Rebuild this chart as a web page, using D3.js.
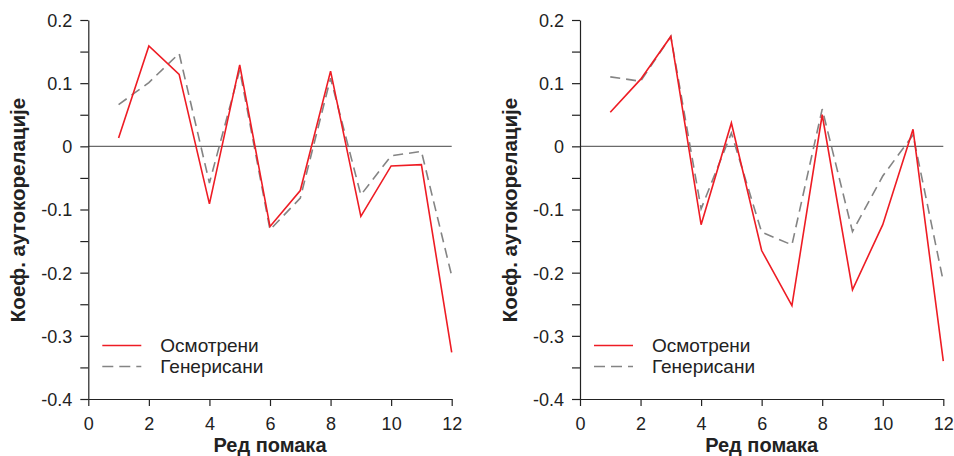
<!DOCTYPE html>
<html><head><meta charset="utf-8">
<script src="https://cdn.jsdelivr.net/npm/d3@7"></script>
<style>body{margin:0;background:#fff}svg{display:block}text{font-family:"Liberation Sans",Arial,sans-serif;fill:#222}</style>
</head><body><svg id="c" width="954" height="456"></svg>
<script>
const lags = [1,2,3,4,5,6,7,8,9,10,11,12];
const leftObserved  = [0.013,0.159,0.114,-0.091,0.129,-0.127,-0.070,0.119,-0.111,-0.031,-0.029,-0.326];
const leftGenerated = [0.066,0.101,0.147,-0.058,0.121,-0.132,-0.082,0.108,-0.077,-0.015,-0.008,-0.205];
const rightObserved  = [0.054,0.106,0.174,-0.124,0.037,-0.165,-0.252,0.050,-0.227,-0.124,0.027,-0.340];
const rightGenerated = [0.110,0.103,0.174,-0.099,0.021,-0.136,-0.156,0.059,-0.135,-0.047,0.018,-0.214];
const xTicks = [0,2,4,6,8,10,12];
const yTicks = [0.2,0.15,0.1,0.05,0,-0.05,-0.1,-0.15,-0.2,-0.25,-0.3,-0.35,-0.4];
const yLabels = ["0.2","0.1","0","-0.1","-0.2","-0.3","-0.4"];
const seriesNames = ["Осмотрени","Генерисани"];
const xTitle = "Ред помака";
const yTitle = "Коеф. аутокорелације";

const svg = d3.select("#c");
const RED = "#ee1c24", GRAY = "#848484";

function panel(x0, x1, obs, gen, titleX) {
  const x = d3.scaleLinear().domain([0,12]).range([x0,x1]);
  const y = d3.scaleLinear().domain([-0.4,0.2]).range([399,20]);
  const g = svg.append("g");
  g.append("line").attr("x1",x0).attr("x2",x1).attr("y1",y(0)).attr("y2",y(0))
    .attr("stroke","#6a6a6a").attr("stroke-width",1.3);
  const ya = d3.axisLeft(y).tickValues(yTicks).tickSize(8).tickSizeOuter(0)
    .tickFormat(d => { const s = String(+d.toFixed(2)); return yLabels.includes(s) ? s : ""; });
  const yg = g.append("g").attr("transform",`translate(${x0},0)`).call(ya);
  yg.select(".domain").attr("stroke","#222").attr("stroke-width",1.2);
  yg.selectAll(".tick line").attr("stroke","#222").attr("stroke-width",1.2);
  yg.selectAll(".tick text").attr("x",-16).attr("dy","0.36em").style("font-size","18px")
    .style("font-family","Liberation Sans, Arial, sans-serif").attr("fill","#222");
  const xa = d3.axisBottom(x).tickValues(xTicks).tickSize(7).tickSizeOuter(0);
  const xg = g.append("g").attr("transform","translate(0,399)").call(xa);
  xg.select(".domain").attr("stroke","#222").attr("stroke-width",1.2);
  xg.selectAll(".tick line").attr("stroke","#222").attr("stroke-width",1.2);
  xg.selectAll(".tick text").attr("y",18).attr("dy","0.71em").style("font-size","18px")
    .style("font-family","Liberation Sans, Arial, sans-serif").attr("fill","#222");
  const line = d3.line().x((d,i)=>x(lags[i])).y(d=>y(d));
  g.append("path").datum(gen).attr("d",line).attr("fill","none").attr("stroke",GRAY)
    .attr("stroke-width",1.6).attr("stroke-dasharray","10,6");
  g.append("path").datum(obs).attr("d",line).attr("fill","none").attr("stroke",RED)
    .attr("stroke-width",1.6);
  const lx = x0 + 14;
  g.append("line").attr("x1",lx).attr("x2",lx+39).attr("y1",345.5).attr("y2",345.5)
    .attr("stroke",RED).attr("stroke-width",1.6);
  g.append("line").attr("x1",lx).attr("x2",lx+39).attr("y1",366.5).attr("y2",366.5)
    .attr("stroke",GRAY).attr("stroke-width",1.6).attr("stroke-dasharray","11,6");
  g.append("text").attr("x",lx+58).attr("y",352).style("font-size","19px").text(seriesNames[0]);
  g.append("text").attr("x",lx+58).attr("y",373).style("font-size","19px").text(seriesNames[1]);
  g.append("text").attr("x",(x0+x1)/2).attr("y",452).attr("text-anchor","middle")
    .style("font-size","20px").style("font-weight","bold").text(xTitle);
  g.append("text").attr("transform",`translate(${titleX},210) rotate(-90)`).attr("text-anchor","middle")
    .style("font-size","20.5px").style("font-weight","bold").text(yTitle);
}
panel(88.3, 451.7, leftObserved, leftGenerated, 25);
panel(580, 943.3, rightObserved, rightGenerated, 516.5);
</script></body></html>
